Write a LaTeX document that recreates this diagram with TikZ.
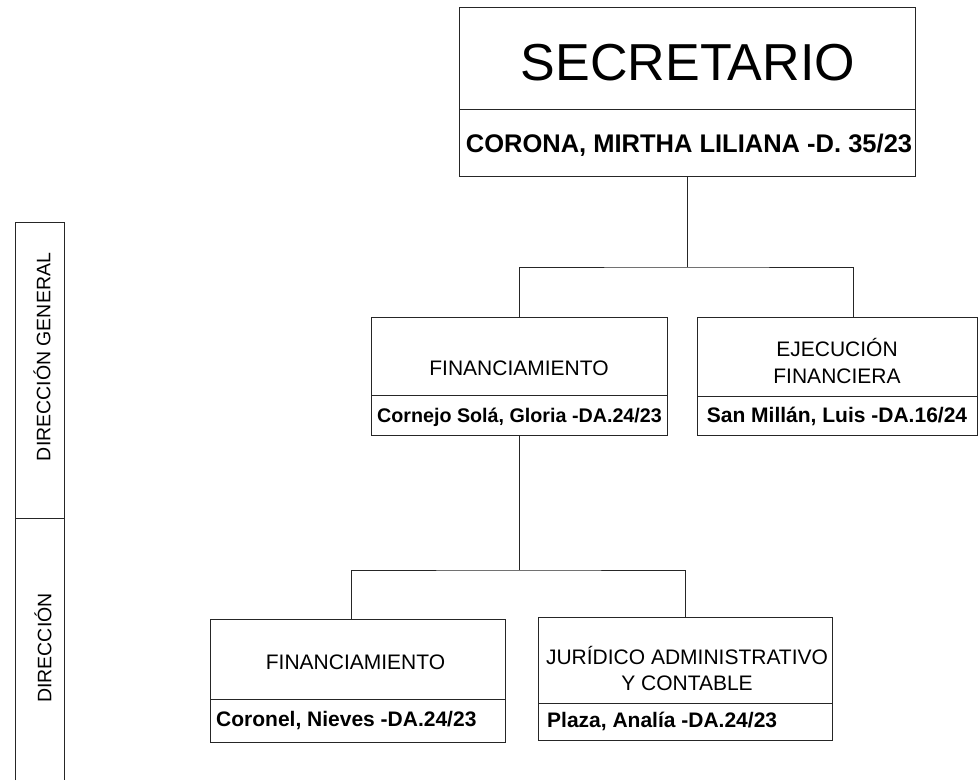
\documentclass[tikz,border=0pt]{standalone}
\usepackage{fontspec}
\setmainfont{Liberation Sans}
\usetikzlibrary{positioning}

\tikzset{
  caja/.style={draw=black!85, line width=0.9pt, inner sep=0pt, outer sep=0pt, minimum width=#1},
  cargo/.style={anchor=base, font=\fontsize{21}{27}\selectfont, align=center, inner sep=0pt},
  nombre/.style={anchor=base, font=\bfseries\fontsize{21}{25}\selectfont, inner sep=0pt},
  linea/.style={draw=black!85, line width=0.9pt},
  lateral/.style={rotate=90, font=\fontsize{19.5}{23}\selectfont, inner sep=0pt}
}

\begin{document}
\begin{tikzpicture}[x=1pt, y=-1pt]
    \useasboundingbox (0,0) rectangle (978,780);
    % secretario
    \node[caja=456pt, minimum height=102pt] (sec) at (687,58) {};
    \node[caja=456pt, minimum height=67pt, below=0pt of sec] (secnom) {};
    \node[cargo, font=\fontsize{52}{60}\selectfont] (sectxt) at (688,80) {SECRETARIO};
    \node[nombre, font=\bfseries\fontsize{25.5}{30}\selectfont] (secnomtxt) at (689,152) {CORONA, MIRTHA LILIANA -D. 35/23};
    % direcciones generales
    \node[caja=296pt, minimum height=78pt] (fin) at (519,356) {};
    \node[caja=296pt, minimum height=40pt, below=0pt of fin] (finnom) {};
    \node[caja=280pt, minimum height=79pt] (eje) at (837,356.5) {};
    \node[caja=280pt, minimum height=39pt, below=0pt of eje] (ejenom) {};
    \node[cargo] (fintxt) at (519,375) {FINANCIAMIENTO};
    \node[nombre, font=\bfseries\fontsize{19.7}{24}\selectfont] (finnomtxt) at (519.5,422.5) {Cornejo Solá, Gloria -DA.24/23};
    \node[cargo] (ejetxt) at (837,383.3) {EJECUCIÓN\\FINANCIERA};
    \node[nombre] (ejenomtxt) at (837,422.7) {San Millán, Luis -DA.16/24};
    % direcciones
    \node[caja=295pt, minimum height=80pt] (fin2) at (357.5,659) {};
    \node[caja=295pt, minimum height=43pt, below=0pt of fin2] (fin2nom) {};
    \node[caja=294pt, minimum height=86pt] (jur) at (685,660) {};
    \node[caja=294pt, minimum height=37pt, below=0pt of jur] (jurnom) {};
    \node[cargo] (fin2txt) at (355.5,669) {FINANCIAMIENTO};
    \node[nombre, anchor=base west] (fin2nomtxt) at (216,726.7) {Coronel, Nieves -DA.24/23};
    \node[cargo, font=\fontsize{21}{25.7}\selectfont] (jurtxt) at (687,690) {JURÍDICO ADMINISTRATIVO\\Y CONTABLE};
    \node[nombre, anchor=base west] (jurnomtxt) at (547,727.7) {Plaza, Analía -DA.24/23};
    % conectores
    \coordinate (r1) at (687,267);
    \coordinate (r2) at (519,570);
    \draw[linea] (secnom.south) -- (r1);
    \draw[linea] (fin.north) |- (r1) -| ([xshift=16pt]eje.north);
    \draw[linea] (finnom.south) -- (r2);
    \draw[linea] ([xshift=-6.5pt]fin2.north) |- (r2) -| (jur.north);
    % columna de niveles
    \draw[linea] (15,780) -- (15,222) -- (64,222) -- (64,780);
    \draw[linea] (15,518) -- (64,518);
    \node[lateral] (dg) at (42,357) {DIRECCIÓN GENERAL};
    \node[lateral] (dir) at (43,648) {DIRECCIÓN};
\end{tikzpicture}
\end{document}
